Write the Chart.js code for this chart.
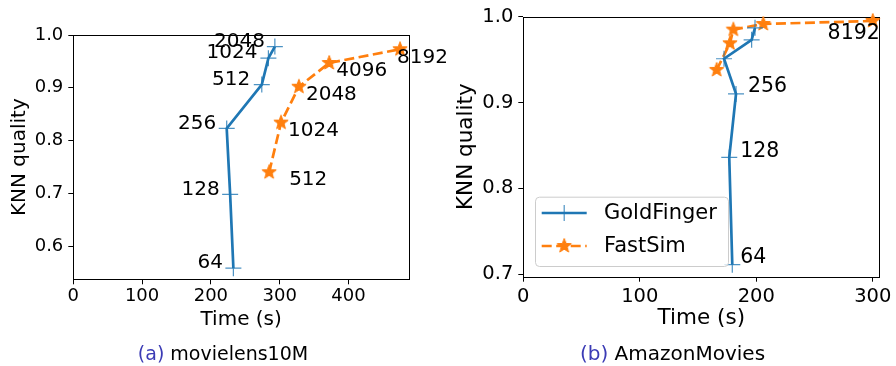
<!DOCTYPE html>
<html><head><meta charset="utf-8">
<script src="https://cdn.jsdelivr.net/npm/chart.js@4"></script>
<style>
html,body{margin:0;padding:0;background:#fff;}
#wrap{position:relative;width:896px;height:366px;overflow:hidden;background:#fff;}
.box{position:absolute;top:0;height:366px;width:448px;}
</style></head><body>
<div id="wrap">
<div class="box" style="left:0"><canvas id="c1" width="448" height="366"></canvas></div>
<div class="box" style="left:448px"><canvas id="c2" width="448" height="366"></canvas></div>
</div>
<script>
// ---------- data ----------
const movieGoldTime    = [232.7, 228, 223, 274, 283.6, 293];
const movieGoldQuality = [0.558, 0.698, 0.823, 0.906, 0.956, 0.978];
const movieGoldLabels  = ['64','128','256','512','1024','2048'];
const movieFastTime    = [284.7, 302, 328, 372, 475];
const movieFastQuality = [0.740, 0.834, 0.902, 0.947, 0.973];
const movieFastLabels  = ['512','1024','2048','4096','8192'];

const amazonGoldTime    = [179.4, 176.8, 182.6, 172.3, 196, 198.9];
const amazonGoldQuality = [0.711, 0.836, 0.910, 0.951, 0.973, 0.987];
const amazonGoldLabels  = ['64','128','256','512','1024','2048'];
const amazonFastTime    = [166, 177.4, 180.3, 206, 300];
const amazonFastQuality = [0.938, 0.969, 0.985, 0.9915, 0.995];
const amazonFastLabels  = ['512','1024','2048','4096','8192'];

const movieXTicks  = [0,100,200,300,400];
const movieYTicks  = [0.6,0.7,0.8,0.9,1.0];
const amazonXTicks = [0,100,200,300];
const amazonYTicks = [0.7,0.8,0.9,1.0];

const seriesNames = ['GoldFinger','FastSim'];
const captionA = ['(a)', 'movielens10M'];
const captionB = ['(b)', 'AmazonMovies'];

// ---------- styles ----------
const BLUE = '#1f77b4', ORANGE = '#ff7f0e';
const FONT = 'DejaVu Sans';

function starCanvas(r, color){
  const s = Math.ceil(2*r+3);
  const c = document.createElement('canvas'); c.width = s; c.height = s;
  const g = c.getContext('2d'); g.translate(s/2, s/2);
  g.beginPath();
  for (let k=0;k<10;k++){
    const rr = k%2 ? r*0.42 : r;
    const a = -Math.PI/2 + k*Math.PI/5;
    g.lineTo(rr*Math.cos(a), rr*Math.sin(a));
  }
  g.closePath(); g.fillStyle = color; g.fill();
  g.strokeStyle = color; g.lineWidth = 1; g.lineJoin='miter'; g.stroke();
  return c;
}
const STAR = starCanvas(7.5, ORANGE);

function pts(xs, ys){ return xs.map((x,i)=>({x:x, y:ys[i]})); }

function datasets(gx, gy, fx, fy){
  return [
    {label:seriesNames[0], data:pts(gx,gy), showLine:true, borderColor:BLUE, borderWidth:2.7,
     pointStyle:'cross', pointRadius:8, pointBorderColor:'rgba(31,119,180,0.8)', pointBorderWidth:1.2,
     pointBackgroundColor:BLUE, tension:0, clip:false},
    {label:seriesNames[1], data:pts(fx,fy), showLine:true, borderColor:ORANGE, borderWidth:2.7,
     borderDash:[10,4.5], pointStyle:STAR, pointRadius:8, tension:0, clip:false}
  ];
}

function scales(o){
  return {
    x:{type:'linear', min:o.xmin, max:o.xmax,
       afterBuildTicks:s=>{ s.ticks = o.xticks.map(v=>({value:v})); },
       afterFit:s=>{ s.height = o.xh; },
       grid:{display:true, drawOnChartArea:false, drawTicks:true, tickLength:5, color:'#000', lineWidth:1},
       border:{display:false},
       ticks:{color:'#000', font:{family:FONT, size:o.tick}, padding:o.xpad, maxRotation:0, autoSkip:false,
              callback:v=>String(v)},
       title:{display:true, text:'Time (s)', color:'#000', font:{family:FONT, size:o.title}, padding:{top:0,bottom:o.xtp}}},
    y:{type:'linear', min:o.ymin, max:o.ymax,
       afterBuildTicks:s=>{ s.ticks = o.yticks.map(v=>({value:v})); },
       afterFit:s=>{ s.width = o.yw; },
       grid:{display:true, drawOnChartArea:false, drawTicks:true, tickLength:5, color:'#000', lineWidth:1},
       border:{display:false},
       ticks:{color:'#000', font:{family:FONT, size:o.tick}, padding:5, autoSkip:false,
              callback:v=>Number(v).toFixed(1)},
       title:{display:true, text:'KNN quality', color:'#000', font:{family:FONT, size:o.title}, padding:{top:o.ytp,bottom:0}}}
  };
}

const framePlugin = {
  id:'frame',
  beforeDatasetsDraw(chart){
    const a = chart.chartArea, c = chart.ctx;
    c.save(); c.strokeStyle='#000'; c.lineWidth=1;
    c.strokeRect(Math.round(a.left)+0.5, Math.round(a.top)+0.5, Math.round(a.right-a.left), Math.round(a.bottom-a.top));
    c.restore();
  }
};

const notesPlugin = {
  id:'notes',
  afterDatasetsDraw(chart, args, opts){
    const c = chart.ctx; c.save();
    c.fillStyle = '#000'; c.font = opts.size + 'px "' + FONT + '"'; c.textBaseline = 'middle';
    (opts.items||[]).forEach(it=>{
      const el = chart.getDatasetMeta(it.ds).data[it.idx];
      const text = opts.labels[it.ds][it.idx];
      c.textAlign = it.align;
      c.fillText(text, el.x + it.dx, el.y + it.dy);
    });
    c.restore();
  }
};

const captionPlugin = {
  id:'caption',
  afterDraw(chart, args, opts){
    const c = chart.ctx; c.save();
    c.font = opts.size + 'px "' + FONT + '"'; c.textBaseline='middle'; c.textAlign='left';
    const p1 = opts.parts[0], p2 = ' ' + opts.parts[1];
    const w1 = c.measureText(p1).width, w2 = c.measureText(p2).width;
    let x = opts.cx - (w1+w2)/2;
    c.fillStyle = '#3b3bb5'; c.fillText(p1, x, opts.cy);
    c.fillStyle = '#000'; c.fillText(p2, x + w1, opts.cy);
    c.restore();
  }
};

const legendPlugin = {
  id:'boxlegend',
  afterDatasetsDraw(chart, args, opts){
    if (!opts.show) return;
    const c = chart.ctx; c.save();
    const b = opts.box;
    c.beginPath();
    if (c.roundRect) c.roundRect(b.x+0.5, b.y+0.5, b.w, b.h, 4); else c.rect(b.x+0.5,b.y+0.5,b.w,b.h);
    c.fillStyle='rgba(255,255,255,0.8)'; c.fill();
    c.strokeStyle='#cccccc'; c.lineWidth=1; c.stroke();
    const rows = opts.rows;
    rows.forEach((r,i)=>{
      const ds = chart.data.datasets[i];
      c.strokeStyle = ds.borderColor; c.lineWidth = ds.borderWidth;
      c.setLineDash(ds.borderDash||[]);
      c.beginPath(); c.moveTo(opts.x0, r); c.lineTo(opts.x1, r); c.stroke();
      c.setLineDash([]);
      const mx = (opts.x0+opts.x1)/2;
      if (i===0){
        c.strokeStyle='rgba(31,119,180,0.8)'; c.lineWidth=1.2;
        c.beginPath(); c.moveTo(mx-8,r); c.lineTo(mx+8,r); c.moveTo(mx,r-8); c.lineTo(mx,r+8); c.stroke();
      } else {
        c.drawImage(STAR, mx-STAR.width/2, r-STAR.height/2);
      }
      c.fillStyle='#000'; c.font = opts.size+'px "'+FONT+'"'; c.textBaseline='middle'; c.textAlign='left';
      c.fillText(ds.label, opts.tx, r+1);
    });
    c.restore();
  }
};

Chart.register(framePlugin, notesPlugin, captionPlugin, legendPlugin);

const common = {responsive:false, animation:false, events:[], devicePixelRatio:1};

new Chart(document.getElementById('c1'), {
  type:'scatter',
  data:{datasets:datasets(movieGoldTime, movieGoldQuality, movieFastTime, movieFastQuality)},
  options:Object.assign({}, common, {
    layout:{padding:{left:0, top:35, right:39, bottom:0}},
    scales:scales({xmin:0, xmax:488, ymin:0.537, ymax:1.0, xticks:movieXTicks, yticks:movieYTicks,
                   xh:86.7, yw:73.3, tick:18, title:20, xpad:1, xtp:34.7, ytp:8}),
    plugins:{
      legend:{display:false}, tooltip:{enabled:false},
      notes:{size:20, labels:[movieGoldLabels, movieFastLabels], items:[
        {ds:0, idx:0, align:'right', dx:-10.5, dy:-5},
        {ds:0, idx:1, align:'right', dx:-10.5, dy:-5},
        {ds:0, idx:2, align:'right', dx:-10.5, dy:-5},
        {ds:0, idx:3, align:'right', dx:-11.5, dy:-5},
        {ds:0, idx:4, align:'right', dx:-11, dy:-5},
        {ds:0, idx:5, align:'right', dx:-10, dy:-5},
        {ds:1, idx:0, align:'left', dx:20, dy:8},
        {ds:1, idx:1, align:'left', dx:7, dy:8},
        {ds:1, idx:2, align:'left', dx:7, dy:8},
        {ds:1, idx:3, align:'left', dx:7, dy:8},
        {ds:1, idx:4, align:'left', dx:-3, dy:9}
      ]},
      caption:{parts:captionA, cx:223, cy:355, size:19},
      boxlegend:{show:false}
    }
  })
});

new Chart(document.getElementById('c2'), {
  type:'scatter',
  data:{datasets:datasets(amazonGoldTime, amazonGoldQuality, amazonFastTime, amazonFastQuality)},
  options:Object.assign({}, common, {
    layout:{padding:{left:0, top:16.7, right:16.7, bottom:0}},
    scales:scales({xmin:0, xmax:305.6, ymin:0.697, ymax:1.0, xticks:amazonXTicks, yticks:amazonYTicks,
                   xh:89.3, yw:75.3, tick:19.5, title:21.5, xpad:4, xtp:35.1, ytp:5.8}),
    plugins:{
      legend:{display:false}, tooltip:{enabled:false},
      notes:{size:20.5, labels:[amazonGoldLabels, amazonFastLabels], items:[
        {ds:0, idx:0, align:'left', dx:8, dy:-7},
        {ds:0, idx:1, align:'left', dx:11, dy:-6},
        {ds:0, idx:2, align:'left', dx:12, dy:-7},
        {ds:1, idx:4, align:'right', dx:7, dy:12.6}
      ]},
      caption:{parts:captionB, cx:224.5, cy:355, size:20},
      boxlegend:{show:true, box:{x:87, y:196.7, w:193, h:69.3}, rows:[213, 246], x0:93.7, x1:138.7, tx:156, size:21}
    }
  })
});
</script>
</body></html>
